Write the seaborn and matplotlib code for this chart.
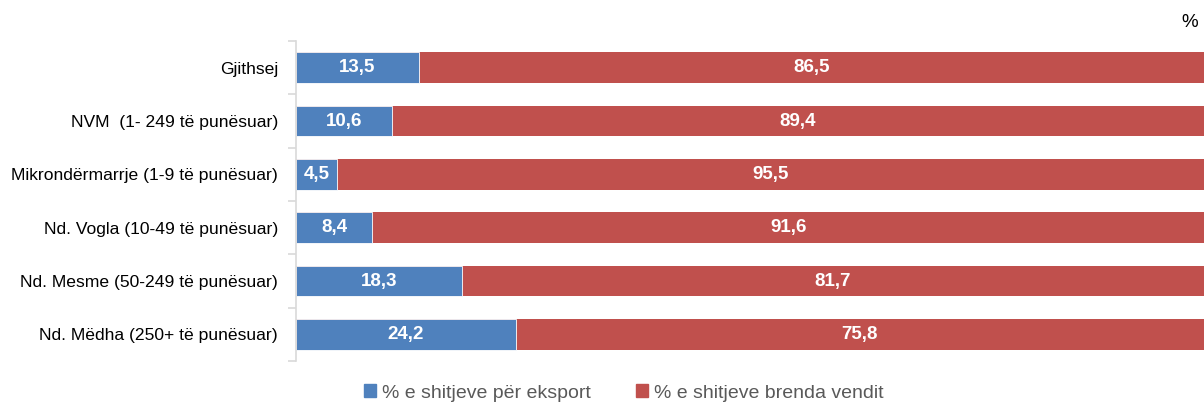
import matplotlib
matplotlib.use("Agg")
import matplotlib.pyplot as plt
import seaborn as sns
import pandas as pd
from matplotlib.patches import Patch

categories = [
    "Gjithsej",
    "NVM  (1- 249 të punësuar)",
    "Mikrondërmarrje (1-9 të punësuar)",
    "Nd. Vogla (10-49 të punësuar)",
    "Nd. Mesme (50-249 të punësuar)",
    "Nd. Mëdha (250+ të punësuar)",
]
eksport = [13.5, 10.6, 4.5, 8.4, 18.3, 24.2]
brenda = [86.5, 89.4, 95.5, 91.6, 81.7, 75.8]

blue = "#4F81BD"
red = "#C0504D"

df = pd.DataFrame({"kategoria": categories, "eksport": eksport, "brenda": brenda})
df["total"] = df["eksport"] + df["brenda"]

sns.set_theme(style="white")
plt.rcParams["font.family"] = ["Liberation Sans Narrow", "Liberation Sans", "DejaVu Sans"]

fig = plt.figure(figsize=(12.04, 4.04), dpi=100)
ax = fig.add_axes([0.2458, 0.1064, 0.7542, 0.7921])

# shtresa e kuqe (totali) poshtë, blu sipër
sns.barplot(data=df, y="kategoria", x="total", color=red, width=0.57,
            saturation=1, ax=ax, edgecolor=red, linewidth=0)
sns.barplot(data=df, y="kategoria", x="eksport", color=blue, width=0.57,
            saturation=1, ax=ax, edgecolor="white", linewidth=0.6)

for i, (e, b) in enumerate(zip(df["eksport"], df["brenda"])):
    ax.text(e / 2, i, f"{e:.1f}".replace(".", ","), color="white", fontsize=13.5,
            fontweight="bold", ha="center", va="center")
    ax.text(e + b / 2, i, f"{b:.1f}".replace(".", ","), color="white", fontsize=13.5,
            fontweight="bold", ha="center", va="center")

ax.set_xlim(0, 100)
ax.set_ylim(len(categories) - 0.5, -0.5)
ax.set_xlabel("")
ax.set_ylabel("")
ax.set_xticks([])
ax.set_yticks(range(len(categories)))
ax.set_yticklabels(categories, fontsize=12.6, color="#000000")
ax.tick_params(axis="y", which="major", left=False, length=0, pad=13)
ax.set_yticks([i - 0.5 for i in range(len(categories) + 1)], minor=True)
ax.tick_params(axis="y", which="minor", left=True, length=6, width=1.2,
               color="#D9D9D9", direction="out")

for s in ["top", "right", "bottom"]:
    ax.spines[s].set_visible(False)
ax.spines["left"].set_color("#D9D9D9")
ax.spines["left"].set_linewidth(1.2)

fig.text(0.995, 0.945, "%", fontsize=13.5, ha="right", va="center", color="#000000")

handles = [Patch(color=blue, label="% e shitjeve për eksport"),
           Patch(color=red, label="% e shitjeve brenda vendit")]
fig.legend(handles=handles, loc="center", bbox_to_anchor=(0.518, 0.027), ncol=2,
           frameon=False, fontsize=14, handlelength=0.65, handleheight=0.65,
           handletextpad=0.3, columnspacing=2.3, labelcolor="#595959")

fig.savefig("out.png", dpi=100)
